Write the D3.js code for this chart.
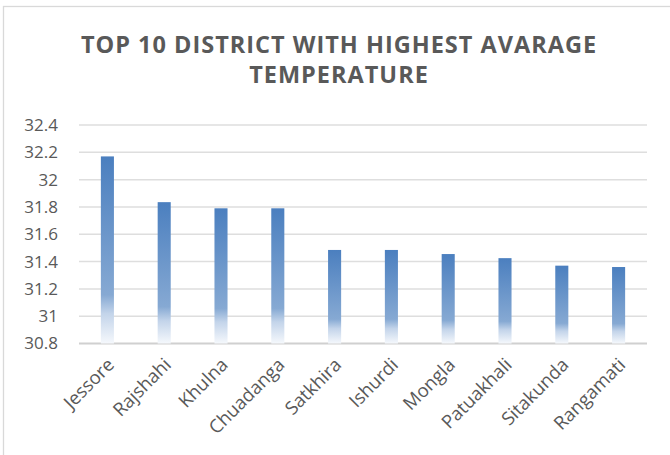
<!DOCTYPE html>
<html lang="en">
<head>
    <meta charset="UTF-8">
    <title>Top 10 district temperature</title>
    <script src="https://cdn.jsdelivr.net/npm/d3@7"></script>
    <style>
        body { margin: 0; background: #fff; }
        text { font-family: "Open Sans", sans-serif; }
    </style>
</head>
<body>

<script>
    var districts = ["Jessore", "Rajshahi", "Khulna", "Chuadanga", "Satkhira",
                     "Ishurdi", "Mongla", "Patuakhali", "Sitakunda", "Rangamati"];
    var avgTemp = [32.17, 31.835, 31.79, 31.79, 31.485, 31.485, 31.455, 31.425, 31.37, 31.36];
    var yTicks = [30.8, 31, 31.2, 31.4, 31.6, 31.8, 32, 32.2, 32.4];
    var titleLines = ["TOP 10 DISTRICT WITH HIGHEST AVARAGE", "TEMPERATURE"];

    var width = 670;
    var height = 455;
    var margin = {top: 125, right: 23, bottom: 111.5, left: 79};

    var svg = d3.select('body')
            .append('svg')
            .attr('width', width)
            .attr('height', height);

    // chart frame
    svg.append('rect')
            .attr('x', 3.5).attr('y', 6.5)
            .attr('width', 700).attr('height', 500)
            .attr('fill', 'none')
            .attr('stroke', '#d9d9d9')
            .attr('stroke-width', 1.3);

    var grad = svg.append('defs').append('linearGradient')
            .attr('id', 'barGrad')
            .attr('x1', 0).attr('y1', 0).attr('x2', 0).attr('y2', 1);
    grad.append('stop').attr('offset', '0%').attr('stop-color', '#4b7fbf');
    grad.append('stop').attr('offset', '74%').attr('stop-color', '#86a9d3');
    grad.append('stop').attr('offset', '84%').attr('stop-color', '#c3d4ea');
    grad.append('stop').attr('offset', '100%').attr('stop-color', '#f5f8fc');

    var x = d3.scaleBand()
            .domain(districts)
            .range([margin.left, width - margin.right])
            .paddingInner(0.77)
            .paddingOuter(0.385);

    var y = d3.scaleLinear()
            .domain([30.8, 32.4])
            .range([height - margin.bottom, margin.top]);

    // title
    svg.append('g').selectAll('text')
            .data(titleLines)
            .enter()
            .append('text')
            .attr('x', 339)
            .attr('y', function (d, i) { return 53 + i * 30; })
            .attr('text-anchor', 'middle')
            .attr('fill', '#595959')
            .attr('font-size', 23.5)
            .attr('font-weight', 'bold')
            .attr('letter-spacing', 1)
            .text(function (d) { return d; });

    // gridlines
    svg.append('g')
            .selectAll('line')
            .data(yTicks)
            .enter()
            .append('line')
            .attr('x1', margin.left)
            .attr('x2', width - margin.right)
            .attr('y1', function (d) { return y(d); })
            .attr('y2', function (d) { return y(d); })
            .attr('stroke', function (d) { return d === 30.8 ? '#d0d0d0' : '#dedede'; })
            .attr('stroke-width', function (d) { return d === 30.8 ? 2 : 1.5; });

    // y axis labels
    var yAxis = d3.axisLeft(y)
            .tickValues(yTicks)
            .tickSize(0)
            .tickPadding(21)
            .tickFormat(function (d) { return String(+d.toFixed(1)); });
    var gy = svg.append('g')
            .attr('transform', 'translate(' + margin.left + ',0)')
            .call(yAxis);
    gy.select('.domain').remove();
    gy.selectAll('text')
            .attr('fill', '#595959')
            .attr('font-size', 17)
            .style('font-family', '"Open Sans", sans-serif');

    // bars
    svg.append('g')
            .selectAll('rect')
            .data(avgTemp)
            .enter()
            .append('rect')
            .attr('x', function (d, i) { return x(districts[i]); })
            .attr('width', x.bandwidth())
            .attr('y', function (d) { return y(d); })
            .attr('height', function (d) { return y(30.8) - y(d); })
            .attr('fill', 'url(#barGrad)');

    // x labels
    svg.append('g')
            .selectAll('text')
            .data(districts)
            .enter()
            .append('text')
            .attr('transform', function (d) {
                return 'translate(' + (x(d) + x.bandwidth() / 2 + 8) + ',' + 366 + ') rotate(-45)';
            })
            .attr('text-anchor', 'end')
            .attr('fill', '#595959')
            .attr('font-size', 18.5)
            .text(function (d) { return d; });
</script>
</body>
</html>
